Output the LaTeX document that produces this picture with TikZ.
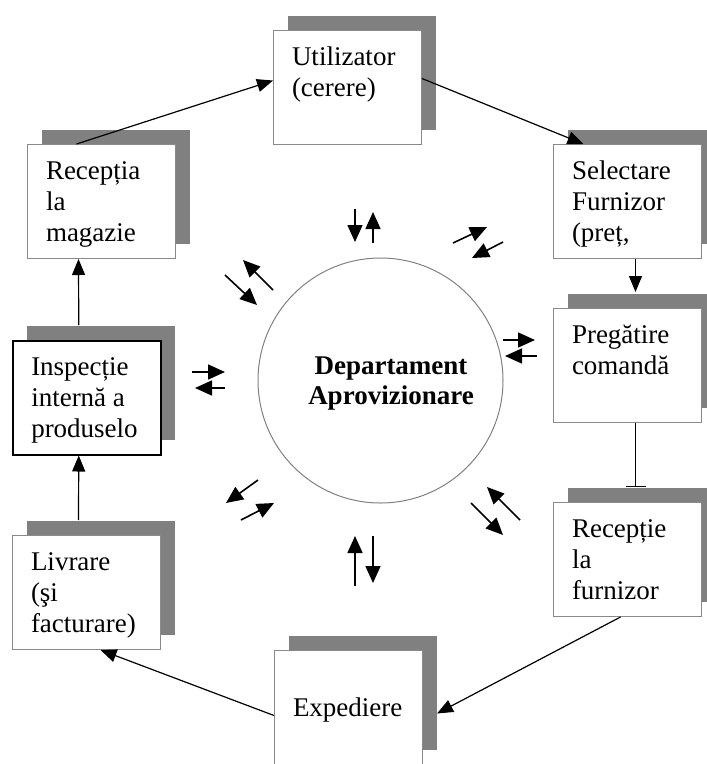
\documentclass[tikz,border=0pt]{standalone}
\usepackage{fontspec}
\setmainfont{Liberation Serif}
\usetikzlibrary{arrows.meta,shadows}
\definecolor{shgray}{HTML}{808080}
\definecolor{edgegray}{HTML}{8A8A8A}
% text block of a stage box: first baseline 35pt below the frame top
\newcommand\boxlines[1]{\parbox[t][90pt][t]{111pt}{\raggedright\rule{0pt}{23pt}#1}}

\begin{document}
\begin{tikzpicture}[x=1pt,y=-1pt,
  stagebox/.style={rectangle, draw=edgegray, line width=1pt, fill=white,
    anchor=north west, inner xsep=18.5pt, inner ysep=12pt,
    font=\fontsize{27}{31}\selectfont,
    drop shadow={shadow xshift=14pt, shadow yshift=15pt, fill=shgray, opacity=1}},
  boldbox/.style={draw=black, line width=1.5pt},
  flow/.style={line width=1.2pt, -{Triangle[length=16pt,width=13pt]}},
  stop/.style={line width=1.2pt, -{Bar[width=20pt,line width=1.2pt]}},
  pair/.style={line width=1.6pt, -{Triangle[length=17pt,width=15pt]}}]

\useasboundingbox (0,0) rectangle (707,764);
\clip (0,0) rectangle (707,764);

% stage boxes
\node[stagebox] (util) at (273,30)  {\boxlines{Utilizator\\(cerere)}};
\node[stagebox] (sel)  at (553,144) {\boxlines{Selectare\\Furnizor\\(preț,}};
\node[stagebox] (preg) at (553,308) {\boxlines{Pregătire\\comandă}};
\node[stagebox] (recf) at (553,502) {\boxlines{Recepție\\la\\furnizor}};
\node[stagebox] (exp)  at (274,650) {\boxlines{\\Expediere}};
\node[stagebox] (livr) at (12,535)  {\boxlines{Livrare\\(şi\\facturare)}};
\node[stagebox, boldbox] (insp) at (12,340) {\boxlines{Inspecție\\internă a\\produselo}};
\node[stagebox] (recm) at (27,144)  {\boxlines{Recepția\\la\\magazie}};

% central department
\node[circle, draw=gray, line width=1pt, minimum size=245pt, inner sep=0pt] (dep) at (380.5,380.5) {};
\node[font=\bfseries\fontsize{27}{30}\selectfont, align=center, inner sep=0pt] (deptxt) at (391,384) {Departament\\Aprovizionare};

% process flow
\draw[flow] ([xshift=-25pt]recm.north) -- ([yshift=7pt]util.west);
\draw[flow] ([yshift=9pt]util.east) -- ([xshift=-44pt]sel.north);
\draw[flow] ([xshift=8pt]sel.south) -- ([xshift=8pt,yshift=16pt]preg.north);
\draw[stop] ([xshift=8pt]preg.south) -- ([xshift=8pt,yshift=15pt]recf.north);
\draw[flow] ([xshift=-7pt]recf.south) -- ([xshift=14pt,yshift=-6pt]exp.east);
\draw[flow] ([yshift=-8pt]exp.west) -- ([xshift=14pt]livr.south);
\draw[flow] ([xshift=-8pt,yshift=15pt]livr.north) -- ([xshift=-8pt]insp.south);
\draw[flow] ([xshift=-8pt,yshift=15pt]insp.north) -- ([xshift=-23pt]recm.south);

% two-way exchanges around the department
\draw[pair] (355,209) -- (355,242);
\draw[pair] (373,243) -- (373,212);
\draw[pair] (453,243) -- (487,227);
\draw[pair] (503,242) -- (472,258);
\draw[pair] (225,275) -- (257,305);
\draw[pair] (273,290) -- (243,260);
\draw[pair] (503,340) -- (535,340);
\draw[pair] (537,356) -- (505,356);
\draw[pair] (192,372) -- (225,372);
\draw[pair] (225,388) -- (195,388);
\draw[pair] (258,480) -- (226,503);
\draw[pair] (241,520) -- (274,503);
\draw[pair] (355,586) -- (355,536);
\draw[pair] (373,536) -- (373,583);
\draw[pair] (520,520) -- (487,487);
\draw[pair] (471,503) -- (503,535);
\end{tikzpicture}
\end{document}
